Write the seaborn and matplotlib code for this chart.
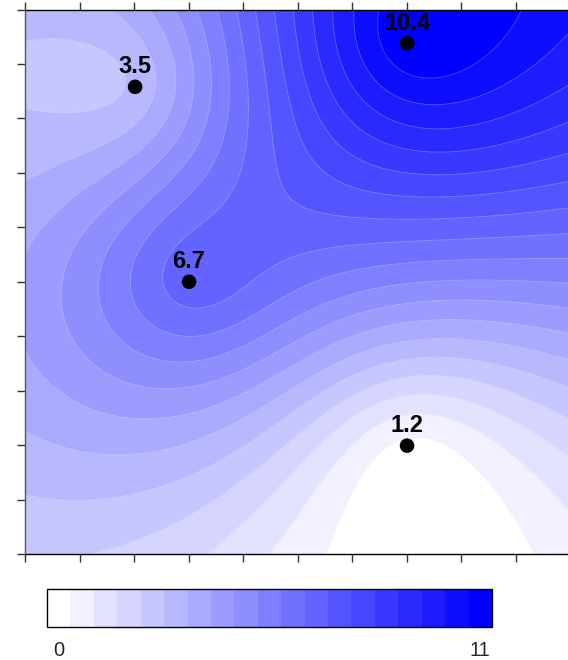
import numpy as np
import matplotlib
matplotlib.use("Agg")
import matplotlib.pyplot as plt
import seaborn as sns

# sample points (x, y in plot units, y up) and their measured values
point_x = [2.02, 7.01, 3.01, 7.01]
point_y = [8.58, 9.38, 5.0, 1.99]
point_val = [3.5, 10.4, 6.7, 1.2]
point_labels = ["3.5", "10.4", "6.7", "1.2"]

x_range = (0, 10)
y_range = (0, 10)
n_bands = 19
legend_labels = ["0", "11"]

sns.set_style("white")
plt.rcParams["font.family"] = ["Liberation Sans", "DejaVu Sans"]


def multiquadric_surface(px, py, pv, c=0.8):
    """RBF interpolation (multiquadric kernel + constant term)"""
    px, py, pv = map(np.asarray, (px, py, pv))
    n = len(pv)
    phi = lambda r: np.sqrt(r ** 2 + c ** 2)
    r = np.hypot(px[:, None] - px[None, :], py[:, None] - py[None, :])
    M = np.zeros((n + 1, n + 1))
    M[:n, :n] = phi(r)
    M[:n, n] = 1
    M[n, :n] = 1
    coef = np.linalg.solve(M, np.append(pv, 0.0))

    def f(X, Y):
        rr = np.hypot(X[..., None] - px, Y[..., None] - py)
        return phi(rr) @ coef[:n] + coef[n]
    return f


surface = multiquadric_surface(point_x, point_y, point_val)
gx = np.linspace(*x_range, 301)
gy = np.linspace(*y_range, 301)
X, Y = np.meshgrid(gx, gy)
Z = surface(X, Y)

levels = np.linspace(Z.min(), Z.max(), n_bands + 1)
colors = sns.blend_palette(["#ffffff", "#0000ff"], n_bands)

fig = plt.figure(figsize=(5.68, 6.6), dpi=100)
ax = fig.add_axes([25 / 568, 106 / 660, 545 / 568, 544.5 / 660])

cf = ax.contourf(X, Y, Z, levels=levels, colors=colors)
ax.contour(X, Y, Z, levels=levels[1:-1], colors="white", linewidths=0.6, alpha=0.3)

df = {"x": point_x, "y": point_y}
sns.scatterplot(x="x", y="y", data=df, color="black", s=110, edgecolor="none",
                ax=ax, zorder=5, legend=False)
for x, y, lab in zip(point_x, point_y, point_labels):
    ax.annotate(lab, (x, y), xytext=(0, 9.7), textcoords="offset points",
                ha="center", va="baseline", fontsize=17, fontweight="bold",
                color="black", zorder=6)

ax.set_xlim(*x_range)
ax.set_ylim(*y_range)
ax.set_xticks(np.arange(x_range[0], x_range[1] + 1, 1))
ax.set_yticks(np.arange(y_range[0], y_range[1] + 1, 1))
ax.set_xticklabels([])
ax.set_yticklabels([])
ax.set_xlabel("")
ax.set_ylabel("")
ax.tick_params(axis="x", which="both", top=True, bottom=True, direction="out",
               length=6, width=1, color="#333333")
ax.tick_params(axis="y", which="both", left=True, right=False, direction="out",
               length=6, width=1, color="#333333")
for side in ["top", "bottom", "left"]:
    ax.spines[side].set_visible(True)
    ax.spines[side].set_color("black")
    ax.spines[side].set_linewidth(1)
ax.spines["left"].set_color("#55556a")
ax.spines["right"].set_visible(False)

# colour legend under the map
cax = fig.add_axes([47 / 568, 33 / 660, 445 / 568, 38 / 660])
cb = fig.colorbar(cf, cax=cax, orientation="horizontal")
cb.set_ticks([])
cb.outline.set_edgecolor("black")
cb.outline.set_linewidth(1)
cax.text(0.5 / n_bands, -0.62, legend_labels[0], transform=cax.transAxes,
         ha="center", va="center", fontsize=14.5)
cax.text(1 - 0.5 / n_bands, -0.62, legend_labels[1], transform=cax.transAxes,
         ha="center", va="center", fontsize=14.5)

fig.savefig("out.png", dpi=100)
